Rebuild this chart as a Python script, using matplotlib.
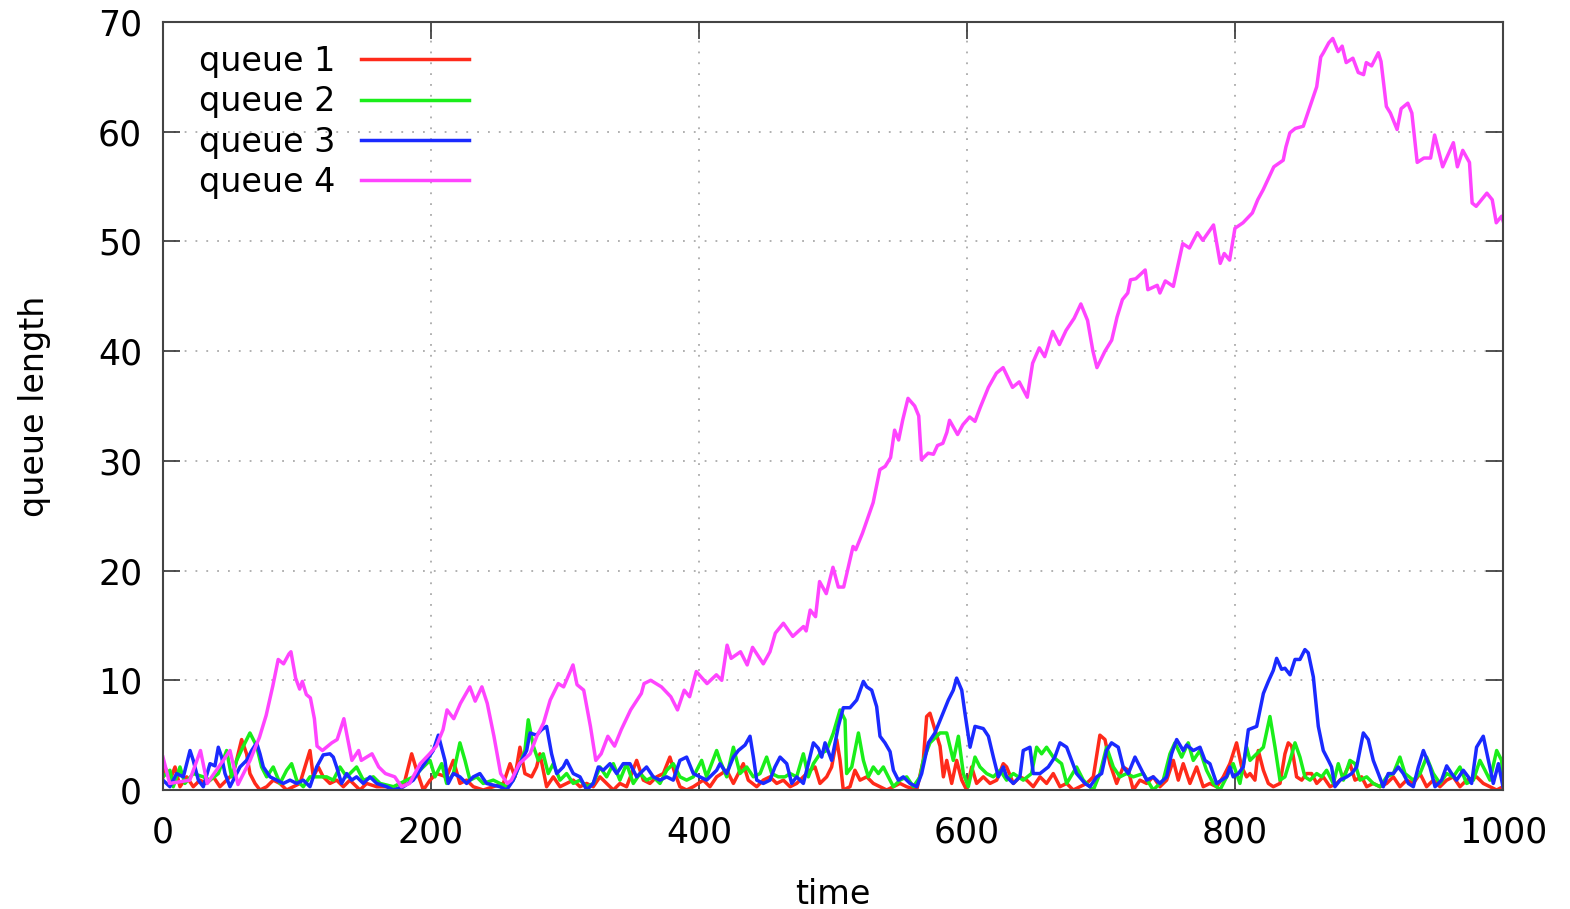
import matplotlib
matplotlib.use("Agg")
import matplotlib.pyplot as plt

# values, (time, queue length)
q1_t = [0, 1.5, 5.2, 9, 12.7, 17.7, 22.6, 27.6, 32.6, 37.6, 42.5, 47.5, 52.5, 58.7, 62.4, 64.9,
        68.7, 72.4, 77.4, 82.3, 87.3, 92.3, 97.3, 102.2, 109.7, 112.2, 115.9, 119.6, 124.6, 129.6,
        134.6, 139.5, 147, 152, 159.5, 167, 172, 179.4, 185.6, 189.3, 194.3, 199.3, 204.2,
        211.7, 216.7, 221.6, 226.6, 231.6, 239, 246.5, 254, 259, 262.7, 266.4, 270.1, 275.1, 278.8,
        281.3, 286.3, 291.3, 296.3, 301.2, 306.2, 311.2, 316.2, 321.1, 326.1, 331.1, 336.1, 341,
        346, 353.5, 358.5, 363.4, 368.4, 373.4, 378.3, 382.1, 385.8, 390.8, 395.8, 403.2, 408.2,
        413.2, 420.7, 425.7, 433.1, 436.8, 443.1, 448, 453, 458, 463, 468, 472.9, 477.9, 482.9,
        486.6, 490.3, 495.3, 499, 502.8, 505.3, 507.7, 512.7, 516.4, 520.2, 525.2, 530.1, 535.1,
        540.1, 545.1, 550, 555, 562.5, 567.4, 569.9, 572.4, 576.1, 579.9, 582.4, 584.9, 588.6,
        592.3, 596.1, 599.8, 603.5, 607.2, 612.2, 617.2, 622.2, 627.1, 629.6, 634.6, 639.5, 644.5,
        649.5, 654.5, 659.4, 664.4, 669.4, 674.4, 679.3, 684.3, 689.3, 694.3, 699.2, 703, 706.7,
        711.7, 716.6, 720.4, 724.1, 729.1, 734.1, 739, 744, 749, 754, 757.7, 761.4, 766.4, 771.4,
        776.3, 781.3, 786.3, 791.3, 796.2, 801.2, 805, 808.7, 811.2, 814.9, 817.4, 821.2, 824.9,
        828.6, 833.6, 837.3, 839.8, 842.3, 846, 849.8, 853.5, 857.2, 861, 865.9, 870.9, 875.9,
        880.9, 885.8, 889.6, 894.5, 898.3, 903.2, 908.2, 913.2, 918.2, 923.1, 928.1, 933.1, 938.1,
        943, 948, 953, 958, 962.9, 967.9, 972.9, 980.3, 985.3, 990.3, 995.3, 1000]
q1_y = [1.2, 2.1, 0.9, 2.1, 0.3, 1.2, 0.3, 0.9, 0.6, 1.2, 0.3, 0.9, 1.5, 4.6, 3.3, 1.5,
        0.6, 0, 0.3, 0.9, 0.6, 0, 0.3, 0.6, 3.6, 1.2, 2.1, 1.2, 0.6, 0.9,
        0.3, 0.9, 0, 0.6, 0.3, 0.3, 0, 0.3, 3.3, 1.8, 0, 0.9, 1.5,
        1.2, 2.7, 0.6, 0.9, 0.3, 0, 0.3, 0.6, 2.4, 1.2, 3.9, 1.5, 1.2, 2.1,
        3.3, 0.3, 1.2, 0.3, 0.6, 0.9, 0.3, 0.6, 0.3, 1.2, 0.6, 0, 0.6,
        0.3, 2.7, 0.9, 0.6, 1.2, 1.5, 3.0, 1.5, 0.3, 0, 0.3, 0.9, 0.3,
        1.2, 1.8, 0.6, 2.4, 0.9, 0.3, 0.9, 1.2, 0.6, 0.9, 0.3, 0.6, 1.2, 1.8,
        2.1, 0.6, 1.2, 2.1, 4.6, 2.7, 0, 0.3, 1.8, 0.9, 1.2, 0.6, 0.3,
        0, 0.3, 0.6, 0.3, 0, 2.7, 6.7, 7.0, 5.5, 4.0, 1.2, 2.7, 0.6,
        2.7, 0.9, 0, 2.1, 0.6, 1.2, 0.6, 0.9, 2.4, 2.1, 0.6, 1.2, 0.9,
        0.3, 1.2, 0.6, 1.5, 0.3, 0.6, 0, 0.3, 0.6, 1.2, 5.0, 4.6, 2.4,
        0.6, 2.1, 1.8, 0, 0.9, 0.6, 1.2, 0.3, 0.9, 2.7, 0.9, 2.4, 0.6, 2.1,
        0.3, 0.6, 0.3, 1.2, 2.4, 4.3, 2.1, 1.2, 1.5, 0.9, 3.6, 1.8, 0.6,
        0.3, 0.6, 3.3, 4.3, 4.0, 1.2, 0.9, 1.5, 1.5, 0.6, 1.2, 0.3, 0.6,
        1.2, 2.4, 0.9, 1.2, 0.3, 0.6, 0.3, 0.6, 1.2, 0.3, 0.9, 0.6, 1.5,
        0.3, 0.9, 0.3, 0.9, 1.2, 0.3, 0.9, 1.2, 0.6, 0.3, 0, 0.3]

q2_t = [0, 5.2, 7.7, 12.7, 16.4, 22.6, 30.1, 35.1, 41.3, 47.5, 51.2, 55, 60, 64.9, 69.9, 73.6,
        77.4, 82.3, 87.3, 92.3, 96, 99.8, 104.7, 109.7, 115.9, 122.1, 127.1, 132.1, 137.1, 144.5,
        149.5, 157, 162, 172, 181.8, 186.8, 194.3, 199.3, 203, 208, 211.7, 216.7, 221.6, 225.4,
        229.1, 234.1, 239, 246.5, 251.5, 256.5, 261.4, 266.4, 270.1, 272.6, 276.4, 280.1, 283.8,
        287.5, 291.3, 296.3, 301.2, 306.2, 311.2, 316.2, 321.1, 326.1, 331.1, 336.1, 341, 346, 351,
        356, 360.9, 365.9, 370.9, 375.9, 380.8, 385.8, 390.8, 395.8, 402, 405.7, 413.2, 415.7,
        420.7, 425.7, 430.6, 435.6, 440.6, 445.6, 450.5, 454.3, 459.2, 464.2, 468, 472.9, 477.9,
        481.6, 485.4, 490.3, 495.3, 500.3, 505.3, 509, 510.2, 514, 519, 522.7, 526.4, 530.1, 533.9,
        537.6, 541.3, 545.1, 550, 555, 560, 565, 567.4, 572.4, 579.9, 584.9, 589.8, 593.6, 597.3,
        601, 606, 609.7, 614.7, 619.7, 624.7, 629.6, 634.6, 642, 648.2, 652, 655.7, 659.4, 664.4,
        670.6, 674.4, 681.8, 686.8, 694.3, 699.2, 704.2, 709.2, 714.2, 719.1, 724.1, 731.6, 739,
        746.5, 751.5, 755.2, 760.2, 765.1, 768.9, 773.9, 778.8, 783.8, 788.8, 793.8, 798.7, 803.7,
        808.7, 811.2, 816.2, 821.2, 826.1, 829.9, 833.6, 837.3, 841.1, 844.8, 848.5, 852.2, 856,
        861, 864.7, 868.4, 873.4, 877.1, 880.9, 885.8, 889.6, 893.3, 898.3, 903.2, 908.2, 913.2,
        918.2, 923.1, 926.9, 933.1, 938.1, 943, 948, 953, 958, 962.9, 967.9, 972.9, 977.9, 982.8,
        986.6, 990.3, 995.3, 999, 1000]
q2_y = [1.2, 1.8, 0.3, 2.1, 0.6, 1.5, 1.2, 0.9, 1.5, 3.6, 1.2, 2.7, 4.0, 5.2, 4.0, 2.1,
        1.2, 2.1, 0.6, 1.8, 2.4, 0.9, 0.3, 1.2, 1.2, 1.2, 0.9, 2.1, 1.2, 2.1,
        0.9, 1.2, 0.6, 0.3, 0.9, 1.2, 2.1, 2.7, 1.2, 2.4, 0.6, 1.5, 4.3, 2.7,
        0.9, 1.2, 0.6, 0.9, 0.6, 0.3, 0.9, 2.4, 3.6, 6.4, 4.0, 2.7, 3.3,
        1.5, 2.4, 0.9, 1.5, 0.6, 0.9, 0.3, 0.6, 2.1, 1.2, 2.4, 0.9, 2.4, 0.6,
        1.5, 0.9, 1.2, 0.6, 1.8, 2.4, 1.2, 0.9, 1.2, 2.7, 1.2, 3.6, 2.7,
        1.2, 3.9, 1.5, 2.1, 1.2, 1.5, 3.0, 1.5, 1.2, 1.2, 1.5, 1.2, 3.3,
        1.2, 2.4, 3.3, 3.6, 5.2, 7.3, 6.4, 1.5, 2.1, 5.2, 2.7, 1.2, 2.1, 1.5,
        2.1, 1.2, 0.3, 0.9, 1.2, 0.3, 1.2, 2.7, 4.3, 5.2, 5.2, 2.7, 4.9, 1.5,
        0.3, 3.0, 2.1, 1.5, 1.2, 1.8, 0.9, 1.5, 0.9, 1.5, 3.9, 3.3, 3.9, 3.0,
        2.4, 0.6, 2.1, 0.9, 0, 1.5, 3.9, 2.1, 1.2, 1.5, 1.2, 1.5, 0,
        0.9, 3.3, 4.3, 3.0, 4.3, 2.7, 3.6, 1.8, 0.6, 0, 1.2, 2.4, 0.6,
        3.9, 2.7, 3.3, 3.9, 6.7, 3.9, 0.9, 1.2, 2.7, 4.3, 3.0, 1.2, 0.9,
        1.5, 1.2, 1.8, 0.6, 2.4, 0.9, 2.7, 2.4, 0.9, 1.2, 0.6, 0.3, 1.2,
        1.5, 3.0, 1.5, 0.9, 1.5, 3.0, 1.5, 0.6, 1.5, 1.2, 2.1, 0.6, 0.9, 2.7,
        1.8, 0.9, 3.6, 2.7, 0.9]

q3_t = [0, 5.2, 10.2, 15.2, 20.2, 22.6, 26.4, 30.1, 35.1, 38.8, 41.3, 43.8, 46.3, 50, 57.5,
        62.4, 66.2, 69.9, 72.4, 74.9, 79.9, 84.8, 89.8, 94.8, 99.8, 104.7, 109.7, 114.7, 119.6,
        124.6, 127.1, 129.6, 133.3, 137.1, 140.8, 144.5, 149.5, 154.5, 159.5, 167, 172, 179.4,
        186.8, 191.8, 196.8, 201.7, 205.5, 210.4, 212.9, 216.7, 221.6, 226.6, 231.6, 236.5, 241.5,
        246.5, 251.5, 256.5, 261.4, 266.4, 271.4, 273.9, 278.8, 282.6, 286.3, 290, 293.8, 298.7,
        301.2, 306.2, 311.2, 316.2, 321.1, 324.9, 328.6, 333.6, 338.6, 343.5, 348.5, 353.5, 360.9,
        365.9, 370.9, 375.9, 380.8, 385.8, 390.8, 395.8, 400.7, 405.7, 413.2, 415.7, 420.7, 425.7,
        429.4, 434.4, 438.1, 440.6, 443.1, 448, 453, 456.7, 460.5, 465.5, 469.2, 472.9, 477.9,
        481.6, 485.4, 489.1, 491.6, 494.1, 499, 504, 507.7, 512.7, 517.7, 522.7, 525.2, 528.9,
        532.6, 535.1, 538.8, 542.6, 545.1, 548.8, 552.5, 557.5, 562.5, 566.2, 571.2, 576.1, 581.1,
        586.1, 589.8, 592.3, 596.1, 598.5, 602.3, 606, 612.2, 616, 619.7, 623.4, 627.1, 629.6,
        634.6, 639.5, 642, 647, 649.5, 654.5, 660.7, 665.6, 669.4, 674.4, 678.1, 681.8, 688.1,
        691.8, 696.8, 700.5, 704.2, 707.9, 712.9, 716.6, 720.4, 725.4, 729.1, 734.1, 739, 744, 749,
        752.7, 756.5, 761.4, 763.9, 768.9, 773.9, 777.6, 781.3, 786.3, 790, 793.8, 796.2, 798.7,
        802.5, 806.2, 810, 816.2, 821.2, 824.9, 828.6, 831.1, 834.8, 837.3, 841.1, 844.8, 848.5,
        852.2, 854.7, 858.5, 862.2, 865.9, 869.7, 872.1, 874.6, 878.4, 883.4, 887.1, 890.8, 895.8,
        899.5, 903.2, 907, 910.7, 914.4, 918.2, 921.9, 925.6, 929.4, 933.1, 936.8, 940.6, 945.5,
        949.3, 954.2, 958, 961.7, 965.4, 970.4, 974.1, 976.6, 980.3, 985.3, 989.1, 992.8, 996.6, 1000]
q3_y = [0.9, 0.3, 1.5, 1.2, 3.6, 2.7, 0.9, 0.3, 2.4, 2.2, 3.9, 3.0, 1.5, 0.3, 2.1,
        2.7, 3.6, 4.3, 3.3, 2.1, 1.2, 0.9, 0.6, 0.9, 0.6, 0.9, 0.3, 2.1, 3.2,
        3.3, 3.0, 2.1, 0.6, 1.5, 0.9, 1.2, 0.6, 1.2, 0.6, 0.3, 0, 0.3,
        0.9, 1.8, 2.7, 3.6, 5.0, 2.7, 0.6, 1.5, 1.2, 0.6, 1.2, 1.5, 0.6,
        0.45, 0.3, 0, 0.9, 2.4, 3.6, 5.2, 5.0, 5.5, 5.8, 3.3, 1.5, 2.1,
        2.7, 1.5, 1.2, 0, 0.6, 2.1, 1.8, 2.4, 1.5, 2.4, 2.4, 1.2, 2.1,
        1.2, 0.9, 1.2, 0.9, 2.7, 3.0, 1.5, 1.2, 0.9, 1.8, 2.4, 1.5, 3.0,
        3.6, 4.1, 4.9, 3.0, 0.9, 0.6, 0.9, 2.1, 3.0, 2.4, 0.6, 1.2, 0.6,
        2.4, 4.3, 3.8, 3.0, 4.3, 2.7, 5.8, 7.5, 7.5, 8.2, 9.9, 9.4, 9.1,
        7.6, 4.9, 4.3, 3.5, 1.8, 0.9, 1.2, 0.6, 0.3, 1.5, 4.3, 5.2, 6.7,
        8.2, 9.1, 10.2, 9.1, 7.0, 3.9, 5.8, 5.6, 4.9, 3.0, 1.2, 2.1, 1.2,
        0.6, 1.2, 3.6, 3.9, 1.5, 1.5, 2.1, 3.0, 4.3, 3.9, 2.7, 1.5, 0.6,
        0.3, 1.2, 1.5, 3.6, 4.3, 3.9, 2.1, 1.5, 3.0, 2.1, 0.9, 1.2, 0.6, 1.2,
        3.3, 4.6, 3.6, 4.1, 3.6, 3.9, 2.7, 2.4, 0.6, 0.9, 1.2, 2.1, 1.2,
        1.5, 2.1, 5.5, 5.8, 8.8, 9.9, 10.9, 12.0, 11.0, 11.1, 10.5, 11.9, 11.9,
        12.8, 12.5, 10.3, 5.8, 3.6, 2.7, 2.1, 0.3, 0.9, 1.2, 1.5, 2.1, 5.2,
        4.6, 2.7, 1.5, 0.3, 1.5, 1.5, 2.1, 1.5, 0.6, 0.3, 2.1, 3.6, 2.1,
        0.3, 0.9, 2.2, 1.5, 0.9, 1.8, 1.2, 0.6, 3.9, 4.9, 2.7, 0.6, 2.4, 0.3]

q4_t = [0, 5, 20, 28, 33, 45, 50, 56, 65, 72, 77, 82, 86, 90, 94, 95.5, 99, 102, 104, 107, 110,
        113, 115, 119, 126, 130, 135, 137, 141, 146, 148, 156, 161, 166, 173, 178, 184, 192, 199,
        204, 209, 212, 217, 222, 229, 233, 238, 242, 247, 252, 257, 260, 266, 274, 279, 284, 289,
        295, 299, 306, 309, 314, 319, 323, 327, 332, 337, 342, 349, 357, 359, 364, 372, 379, 384,
        389, 393, 398, 406, 413, 417, 421, 424, 431, 436, 440, 448, 453, 457, 463, 470, 478, 480,
        483, 487, 490, 495, 500, 504, 508, 515, 517, 522, 530, 535, 539, 543, 546, 549, 552, 556,
        561, 564, 566, 571, 575, 578, 582, 585, 587, 593, 597, 602, 606, 610, 616, 622, 627, 634,
        639, 645, 649, 654, 658, 664, 669, 674, 680, 685, 690, 694, 697, 703, 708, 712, 716, 720,
        722, 726, 733, 735, 742, 744, 748, 754, 761, 766, 772, 776, 784, 789, 792, 796, 800, 806,
        813, 817, 821, 829, 836, 838, 841, 845, 851, 856, 861, 864, 866, 870, 873, 877, 880, 883,
        888, 892, 896, 898, 902, 907, 909, 913, 916, 921, 924, 929, 932, 936, 941, 946, 949, 955,
        963, 966, 970, 975, 977, 980, 988, 992, 995, 999, 1000]
q4_y = [3.0, 0.6, 0.9, 3.6, 0.6, 2.7, 3.6, 0.5, 2.7, 4.8, 6.8, 9.5, 11.9, 11.5, 12.4, 12.6, 10.2,
        9.2, 9.9, 8.7, 8.4, 6.5, 4.0, 3.6, 4.3, 4.6, 6.5, 5.2, 2.7, 3.6, 2.7, 3.3, 2.1, 1.5, 1.2,
        0.3, 0.6, 2.4, 3.3, 4.0, 5.5, 7.3, 6.5, 7.9, 9.4, 8.1, 9.4, 7.9, 4.9, 1.5, 0.6, 0.9, 2.4,
        3.3, 4.9, 6.1, 8.2, 9.7, 9.4, 11.4, 9.6, 9.1, 5.8, 2.7, 3.3, 4.9, 4.0, 5.5, 7.3, 8.8, 9.7,
        10.0, 9.4, 8.5, 7.3, 9.1, 8.5, 10.8, 9.7, 10.5, 10.0, 13.2, 12.0, 12.6, 11.4, 13.0, 11.5,
        12.6, 14.3, 15.2, 14.0, 14.9, 14.5, 16.4, 15.8, 19.0, 17.9, 20.3, 18.5, 18.5, 22.2, 21.9,
        23.4, 26.2, 29.2, 29.5, 30.3, 32.8, 31.9, 33.7, 35.7, 35.0, 34.1, 30.1, 30.7, 30.6, 31.4,
        31.6, 32.6, 33.7, 32.4, 33.3, 34.0, 33.6, 34.9, 36.7, 38.0, 38.5, 36.7, 37.2, 35.8, 38.9,
        40.3, 39.5, 41.8, 40.6, 41.9, 43.0, 44.3, 42.8, 40.0, 38.5, 40.0, 41.0, 43.1, 44.7, 45.3,
        46.5, 46.6, 47.4, 45.6, 46.0, 45.3, 46.4, 45.9, 49.8, 49.4, 50.8, 50.1, 51.5, 48.0, 48.9,
        48.3, 51.2, 51.7, 52.6, 53.8, 54.7, 56.8, 57.4, 58.6, 59.9, 60.3, 60.5, 62.3, 64.1, 66.8,
        67.2, 68.1, 68.5, 67.3, 67.8, 66.3, 66.7, 65.4, 65.2, 66.3, 66.0, 67.2, 66.4, 62.3, 61.7,
        60.2, 62.1, 62.6, 61.7, 57.2, 57.6, 57.6, 59.7, 56.8, 59.0, 56.8, 58.3, 57.2, 53.5, 53.2,
        54.4, 53.8, 51.7, 52.3, 51.9]

labels = ["queue 1", "queue 2", "queue 3", "queue 4"]
colors = ["#ff2a1a", "#1aee1a", "#1a2aff", "#ff44ff"]
xticks = [0, 200, 400, 600, 800, 1000]
yticks = [0, 10, 20, 30, 40, 50, 60, 70]

plt.rcParams["font.family"] = ["DejaVu Sans"]

fig = plt.figure(figsize=(15.7, 9.09), dpi=100)
ax = fig.add_axes([0.1038, 0.1309, 0.8535, 0.8449])

series = [(q1_t, q1_y), (q2_t, q2_y), (q3_t, q3_y), (q4_t, q4_y)]
for (t, y), lab, c in zip(series, labels, colors):
    ax.plot(t, y, color=c, lw=2.5, label=lab)

ax.set_xlim(0, 1000)
ax.set_ylim(0, 70)
ax.set_xticks(xticks)
ax.set_yticks(yticks)
ax.grid(True, color="#aaaaaa", linestyle=(0, (1, 5)), linewidth=1.3)
ax.tick_params(direction="in", length=12, width=1.2, labelsize=25, top=True, right=True,
               color="#333333")
ax.tick_params(axis="x", pad=18)
ax.tick_params(axis="y", pad=15)
for s in ax.spines.values():
    s.set_color("#444444")
    s.set_linewidth(1.5)

ax.set_xlabel("time", fontsize=24, labelpad=21)
ax.set_ylabel("queue length", fontsize=24, labelpad=34)

ax.legend(loc="upper left", markerfirst=False, frameon=False, fontsize=24,
          handlelength=3.25, handletextpad=0.75, labelspacing=0.22,
          borderaxespad=0, borderpad=0, bbox_to_anchor=(0.027, 0.970))

fig.savefig("out.png", dpi=100)
